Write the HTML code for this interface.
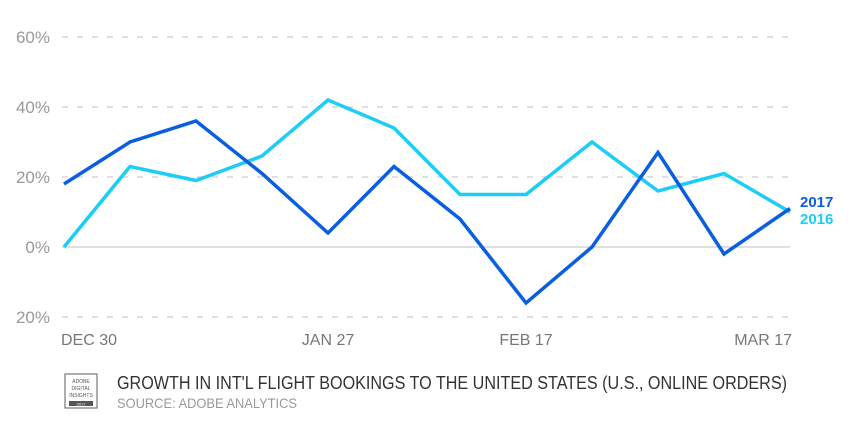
<!DOCTYPE html>
<html><head><meta charset="utf-8"><style>
body{margin:0;background:#fff;width:862px;height:440px;overflow:hidden;font-family:"Liberation Sans",sans-serif}
</style></head><body>
<svg width="862" height="440">
<g id="grid"></g>
<g id="ylab"></g>
<g id="xlab"></g>
<g id="lines"></g>
<text x="800" y="207" fill="#0a5ee0" font-size="15" font-weight="bold">2017</text>
<text x="800" y="224" fill="#1ccdf7" font-size="15" font-weight="bold">2016</text>
<g>
<rect x="65" y="374" width="32" height="34" fill="#fff" stroke="#777" stroke-width="1.2"/>
<text x="81" y="383" font-size="5" text-anchor="middle" fill="#555">ADOBE</text>
<text x="81" y="390" font-size="5" text-anchor="middle" fill="#555">DIGITAL</text>
<text x="81" y="397" font-size="5" text-anchor="middle" fill="#555">INSIGHTS</text>
<rect x="69" y="401" width="24" height="5" fill="#555"/>
<text x="81" y="405.5" font-size="4" text-anchor="middle" fill="#fff">2017</text>
</g>
<text x="117" y="389" font-size="18" fill="#333" textLength="670" lengthAdjust="spacingAndGlyphs">GROWTH IN INT'L FLIGHT BOOKINGS TO THE UNITED STATES (U.S., ONLINE ORDERS)</text>
<text x="117" y="408" font-size="14" fill="#999" textLength="180" lengthAdjust="spacingAndGlyphs">SOURCE: ADOBE ANALYTICS</text>
</svg>
<script>
const yTicks=[60,40,20,0,-20];
const yTickLabels=["60%","40%","20%","0%","20%"];
const xLabels=["DEC 30","JAN 27","FEB 17","MAR 17"];
const xLabelIdx=[0,4,7,11];
const s2017=[18,30,36,21,4,23,8,-16,0,27,-2,11];
const s2016=[0,23,19,26,42,34,15,15,30,16,21,10];
const NS="http://www.w3.org/2000/svg";
const x=i=>64+i*66;
const y=v=>247-v*3.5;
function mk(t,a,p){const e=document.createElementNS(NS,t);for(const k in a)e.setAttribute(k,a[k]);p.appendChild(e);return e;}
const g=document.getElementById('grid'),yl=document.getElementById('ylab'),xl=document.getElementById('xlab'),ln=document.getElementById('lines');
yTicks.forEach((v,i)=>{
 const l=mk('line',{x1:62,x2:790,y1:y(v),y2:y(v),stroke:v===0?'#ccc':'#ccc','stroke-width':1.2,'stroke-dasharray':v===0?'none':'6,9'},g);
 
 
 const t=mk('text',{x:50,y:y(v)+6,'text-anchor':'end','font-size':17,fill:'#999'},yl);
 t.textContent=yTickLabels[i];
 
 
});
xLabels.forEach((s,i)=>{
 const idx=xLabelIdx[i];
 const anchor=idx===0?'start':(idx===11?'end':'middle');
 const t=mk('text',{x:idx===0?61:(idx===11?792:x(idx)),y:345,'text-anchor':anchor,'font-size':16,fill:'#777'},xl);
 t.textContent=s;
 
 
});
[[s2016,'#1ccdf7','line-2016'],[s2017,'#0a5ee0','line-2017']].forEach(([d,c,n])=>{
 const p=mk('polyline',{points:d.map((v,i)=>x(i)+','+y(v)).join(' '),fill:'none',stroke:c,'stroke-width':3.5,'stroke-linejoin':'miter'},ln);
 
 
});
</script>
</body></html>
